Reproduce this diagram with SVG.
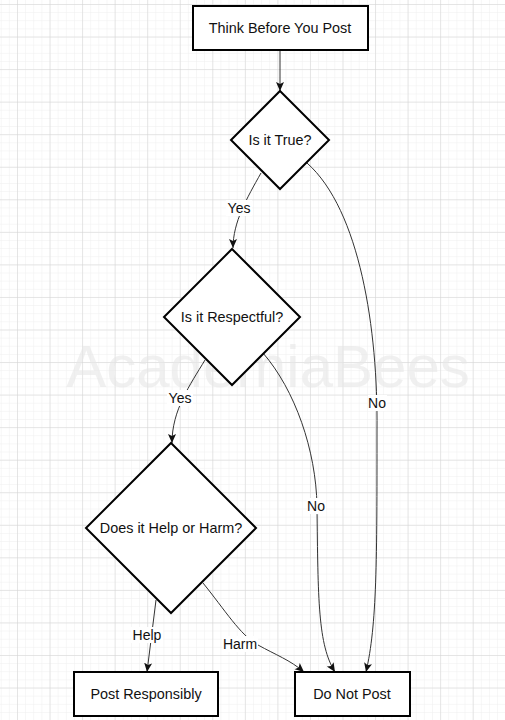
<svg xmlns="http://www.w3.org/2000/svg" width="505" height="720" viewBox="0 0 505 720">
<defs>
<pattern id="minor" x="17" y="4" width="8.1375" height="8.1375" patternUnits="userSpaceOnUse">
<path d="M0,0 H8.1375 M0,0 V8.1375" fill="none" stroke="#eeeeee" stroke-width="1"/>
</pattern>
<pattern id="major" x="17" y="4" width="32.55" height="32.55" patternUnits="userSpaceOnUse">
<path d="M0,0 H32.55 M0,0 V32.55" fill="none" stroke="#d4d4d4" stroke-width="1"/>
</pattern>
<marker id="arr" markerUnits="userSpaceOnUse" markerWidth="10" markerHeight="10" viewBox="0 0 10 10" refX="9" refY="5" orient="auto">
<path d="M0,1 L9,5 L0,9 L2,5 z" fill="#111"/>
</marker>
<style>
.node{fill:#ffffff;stroke:#000000;stroke-width:2}
.t{font-family:"Liberation Sans",Arial,sans-serif;font-size:14.4px;fill:#111;text-anchor:middle}
.lbl{font-family:"Liberation Sans",Arial,sans-serif;font-size:14px;fill:#111;text-anchor:middle}
.lb{fill:#ffffff}
.e{fill:none;stroke:#333333;stroke-width:1;marker-end:url(#arr)}
.wm{font-family:"Liberation Sans",Arial,sans-serif;font-size:60px;fill:#e6e6e6;fill-opacity:0.6;text-anchor:middle}
</style>
</defs>
<rect width="505" height="720" fill="#ffffff"/>
<rect width="505" height="720" fill="url(#minor)"/>
<rect width="505" height="720" fill="url(#major)"/>
<text class="wm" x="268" y="387">AcademiaBees</text>
<g id="connectors">
<path class="e" d="M280,50 L280,91"/>
<path class="e" d="M261,173 C247,198 233,222 233,248"/>
<path class="e" d="M307,163 C360,210 378,330 377,430 C377,560 377,625 366,672"/>
<path class="e" d="M205,360 C190,385 172,410 172,443"/>
<path class="e" d="M263,353 C295,390 316,450 317,506 C318,600 318,645 335,672"/>
<path class="e" d="M156,600 L147,672"/>
<path class="e" d="M203,583 C225,610 240,635 258,645 C276,655 290,660 304,672"/>
<rect class="lb" x="226" y="200" width="26" height="16"/>
<text class="lbl" x="239" y="213">Yes</text>
<rect class="lb" x="368" y="395" width="19" height="16"/>
<text class="lbl" x="377" y="408">No</text>
<rect class="lb" x="167" y="390" width="26" height="16"/>
<text class="lbl" x="180" y="403">Yes</text>
<rect class="lb" x="307" y="498" width="19" height="16"/>
<text class="lbl" x="316" y="511">No</text>
<rect class="lb" x="131" y="627" width="32" height="16"/>
<text class="lbl" x="147" y="640">Help</text>
<rect class="lb" x="222" y="636" width="36" height="16"/>
<text class="lbl" x="240" y="649">Harm</text>
</g>
<g id="start">
<rect class="node" x="193" y="6" width="175" height="44"/>
<text class="t" x="280" y="33">Think Before You Post</text>
</g>
<g id="true">
<polygon class="node" points="280,91 329,140 280,189 231,140"/>
<text class="t" x="280" y="145">Is it True?</text>
</g>
<g id="respectful">
<polygon class="node" points="232,249 300,317 232,385 164,317"/>
<text class="t" x="232" y="322">Is it Respectful?</text>
</g>
<g id="helpharm">
<polygon class="node" points="171,443 256,528 171,613 86,528"/>
<text class="t" x="171" y="533">Does it Help or Harm?</text>
</g>
<g id="postresp">
<rect class="node" x="74" y="672" width="144" height="44"/>
<text class="t" x="146" y="699">Post Responsibly</text>
</g>
<g id="donotpost">
<rect class="node" x="295" y="672" width="115" height="44"/>
<text class="t" x="352" y="699">Do Not Post</text>
</g>
</svg>
